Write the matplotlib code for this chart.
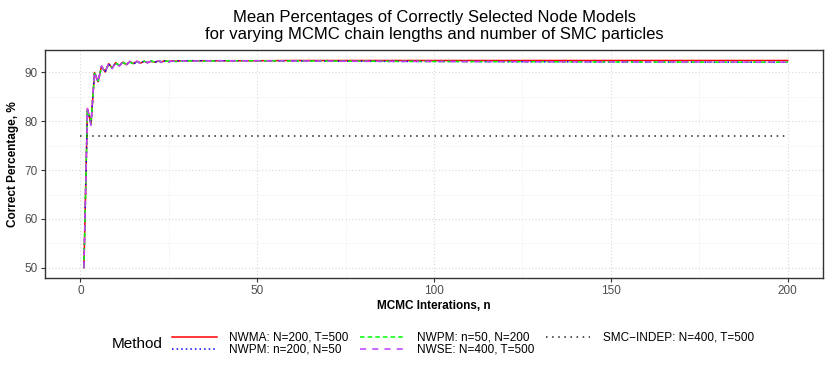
import matplotlib.pyplot as plt
from matplotlib.ticker import MultipleLocator

plt.rcParams['font.family'] = ['Liberation Sans', 'DejaVu Sans']

# MCMC iterations (dense at start, sparse once the curves are flat)
iters = list(range(1, 31)) + [35, 40, 45, 50, 60, 75, 100, 125, 150, 175, 200]

nwma_200_500 = [50.0, 82.6, 79.4, 90.0, 88.1, 91.3, 90.1, 91.8, 90.9, 92.0,
                91.4, 92.1, 91.6, 92.2, 91.8, 92.3, 91.9, 92.3, 92.0, 92.3,
                92.1, 92.3, 92.2, 92.4, 92.2, 92.4, 92.3, 92.4, 92.3, 92.4,
                92.4, 92.4, 92.4, 92.4, 92.45, 92.45, 92.45, 92.45, 92.45, 92.45, 92.45]
nwpm_200_50 = [50.0, 82.5, 79.3, 90.0, 88.0, 91.2, 90.0, 91.8, 90.8, 92.0,
               91.3, 92.1, 91.6, 92.2, 91.7, 92.2, 91.9, 92.3, 92.0, 92.3,
               92.1, 92.3, 92.2, 92.4, 92.2, 92.3, 92.3, 92.4, 92.3, 92.4,
               92.4, 92.4, 92.4, 92.4, 92.35, 92.3, 92.25, 92.2, 92.15, 92.1, 92.1]
nwpm_50_200 = [50.0, 82.4, 79.6, 89.8, 88.3, 91.1, 90.3, 91.6, 91.0, 91.9,
               91.5, 92.0, 91.7, 92.1, 91.8, 92.2, 92.0, 92.3, 92.1, 92.4,
               92.1, 92.3, 92.2, 92.3, 92.3, 92.4, 92.2, 92.4, 92.3, 92.4,
               92.3, 92.4, 92.4, 92.4, 92.35, 92.3, 92.25, 92.2, 92.15, 92.1, 92.1]
nwse_400_500 = [50.0, 82.6, 79.2, 90.1, 87.9, 91.3, 89.9, 91.9, 90.8, 92.1,
                91.3, 92.2, 91.5, 92.3, 91.7, 92.3, 91.9, 92.4, 92.0, 92.3,
                92.2, 92.4, 92.1, 92.4, 92.3, 92.3, 92.3, 92.4, 92.4, 92.3,
                92.4, 92.4, 92.4, 92.4, 92.35, 92.3, 92.25, 92.2, 92.15, 92.15, 92.1]
smc_x = [0, 200]
smc_indep = [77.0, 77.0]

series = [
    ('NWMA: N=200, T=500', iters, nwma_200_500, '#FF0000', '-'),
    ('NWPM: n=200, N=50', iters, nwpm_200_50, '#0000FF', (0, (1, 2))),
    ('NWPM: n=50, N=200', iters, nwpm_50_200, '#00FF00', (0, (3, 2))),
    ('NWSE: N=400, T=500', iters, nwse_400_500, '#C03CFF', (0, (4, 4))),
    ('SMC\u2212INDEP: N=400, T=500', smc_x, smc_indep, '#222222', (0, (1, 3))),
]

fig = plt.figure(figsize=(8.3, 3.68), dpi=100)
ax = fig.add_axes([45 / 830, 1 - 278 / 368, 778 / 830, 228 / 368])

handles = []
for label, xs, ys, col, ls in series:
    h, = ax.plot(xs, ys, color=col, linestyle=ls, linewidth=1.1, label=label)
    handles.append(h)

ax.set_xlim(-10, 210)
ax.set_ylim(47.9, 94.6)
ax.xaxis.set_major_locator(MultipleLocator(50))
ax.xaxis.set_minor_locator(MultipleLocator(25))
ax.yaxis.set_major_locator(MultipleLocator(10))
ax.yaxis.set_minor_locator(MultipleLocator(5))
ax.grid(which='major', color='#D9D9D9', linestyle=(0, (1, 2)), linewidth=0.8)
ax.grid(which='minor', color='#E6E6E6', linestyle=(0, (1, 2)), linewidth=0.6)
ax.set_axisbelow(True)
ax.tick_params(which='major', length=3, color='#333333', labelsize=8.5,
               labelcolor='#4D4D4D', pad=2)
ax.tick_params(which='minor', length=0)
for sp in ax.spines.values():
    sp.set_color('#333333')
    sp.set_linewidth(1.0)

ax.set_xlabel('MCMC Interations, n', fontsize=8.5, fontweight='bold', labelpad=2)
ax.set_ylabel('Correct Percentage, %', fontsize=8.5, fontweight='bold', labelpad=4)
ax.set_title('Mean Percentages of Correctly Selected Node Models\n'
             'for varying MCMC chain lengths and number of SMC particles',
             fontsize=12, pad=8, linespacing=1.15)

fig.text(112 / 830, 1 - 344 / 368, 'Method', fontsize=11, va='center', ha='left')
fig.legend(handles=handles, ncol=3, loc='center left',
           bbox_to_anchor=(166 / 830, 1 - 344 / 368), frameon=False,
           fontsize=8.5, handlelength=3.8, handletextpad=1.05,
           columnspacing=0.95, labelspacing=0.0, borderpad=0)

fig.savefig('out.png', dpi=100)
